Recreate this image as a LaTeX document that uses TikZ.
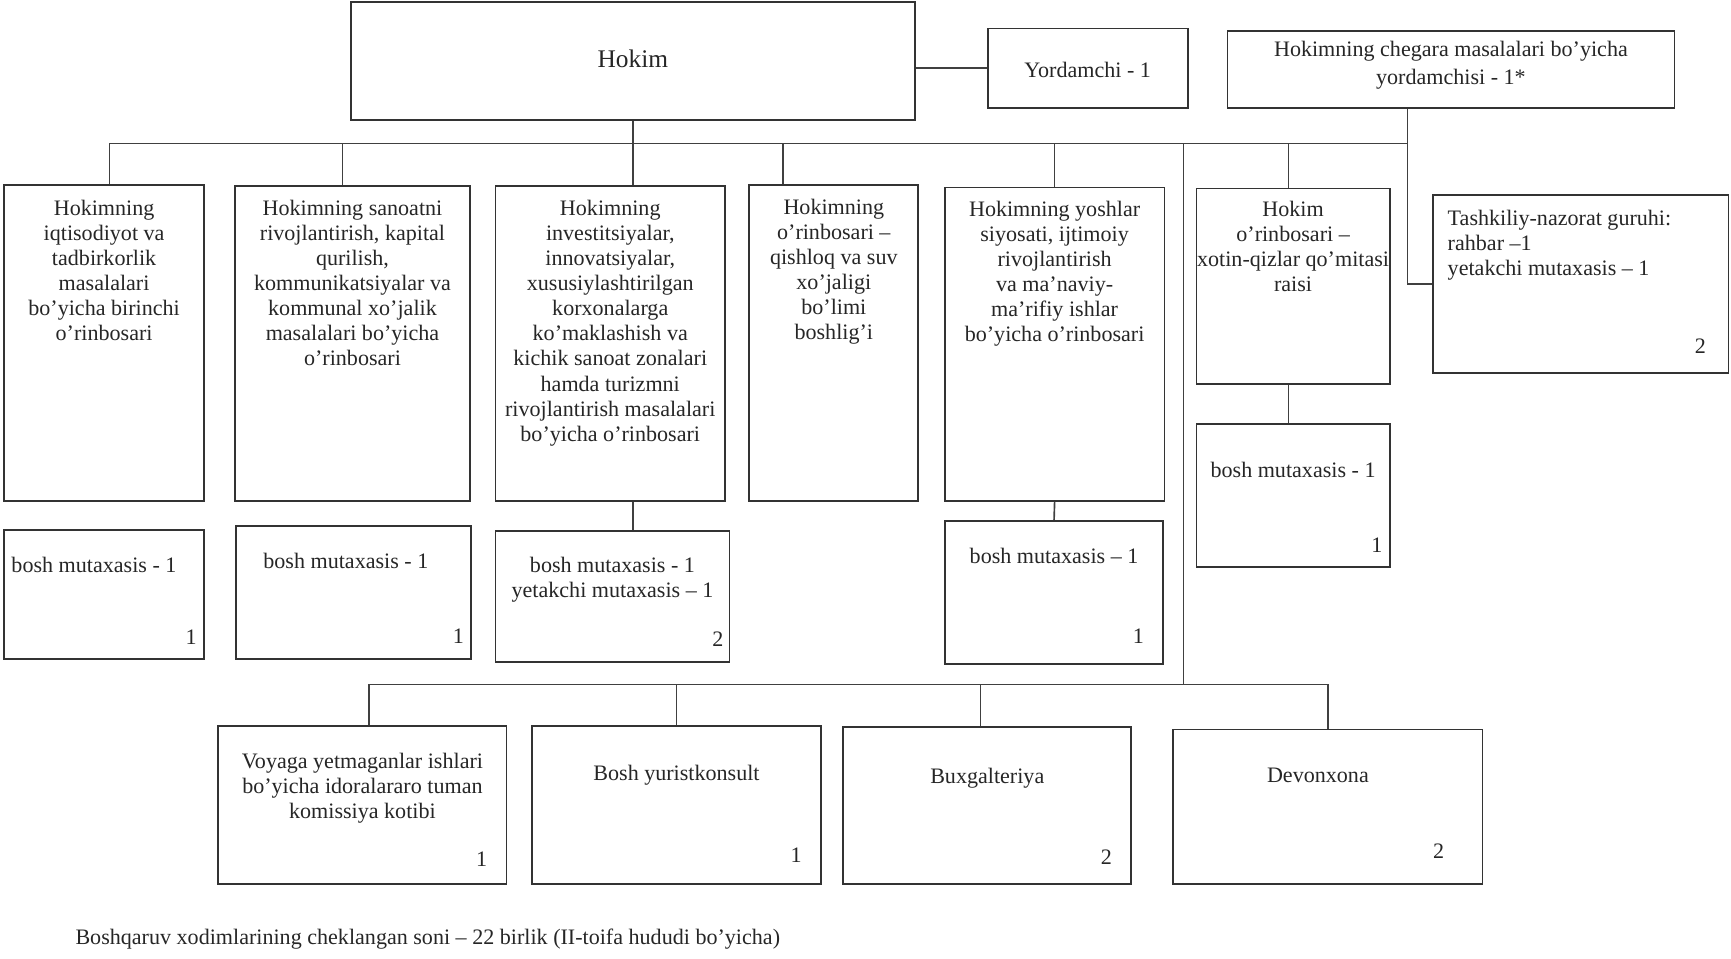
\documentclass[tikz,border=0pt]{standalone}
\usepackage{fontspec}
\setmainfont{Liberation Serif}
\usepackage{tikz}
\usetikzlibrary{positioning}

\begin{document}
\begin{tikzpicture}[x=0.5pt,y=-0.5pt]%
  \tikzstyle{boxn}=[rectangle,draw=black!80,line width=0.8pt,inner sep=0,anchor=north west]
  \tikzstyle{txtn}=[inner sep=0,align=center,text=black!85,font=\fontsize{10}{11.35}\selectfont]
  \tikzstyle{numn}=[inner sep=0,text=black!85,font=\fontsize{10}{12}\selectfont]
  \tikzstyle{conn}=[draw=black!75,line width=0.75pt]
  \useasboundingbox (0,0) rectangle (1568,868);
  % top row
  \node(Hk)[boxn,minimum width=255.5pt,minimum height=53.5pt] at (317,1) {};
  \node(Yo)[boxn,minimum width=90.5pt,minimum height=36pt] at (894,25) {};
  \node(Ch)[boxn,minimum width=202.5pt,minimum height=35pt] at (1111,27) {};
  \node(Hkt)[txtn,font=\fontsize{11.5}{13}\selectfont,yshift=1pt] at (Hk.center) {Hokim};
  \node(Yot)[txtn,yshift=-1pt] at (Yo.center) {Yordamchi - 1};
  \node(Cht)[txtn,font=\fontsize{10}{12.5}\selectfont,below=5pt of Ch.north] {Hokimning chegara masalalari bo'yicha\\yordamchisi - 1*};
  % deputies
  \node(A)[boxn,minimum width=90.5pt,minimum height=143pt] at (3,167) {};
  \node(B)[boxn,minimum width=106.5pt,minimum height=142.5pt] at (212,168) {};
  \node(C)[boxn,minimum width=104pt,minimum height=142.5pt] at (448,168) {};
  \node(D)[boxn,minimum width=76.5pt,minimum height=143pt] at (678,167) {};
  \node(E)[boxn,minimum width=99.5pt,minimum height=142pt] at (855,169) {};
  \node(F)[boxn,minimum width=87.5pt,minimum height=88.5pt] at (1083,170) {};
  \node(Tk)[boxn,minimum width=134pt,minimum height=80.5pt] at (1297,176) {};
  \node(At)[txtn,below=7pt of A.north] {Hokimning\\iqtisodiyot va\\tadbirkorlik\\masalalari\\bo'yicha birinchi\\o'rinbosari};
  \node(Bt)[txtn,below=6.5pt of B.north] {Hokimning sanoatni\\rivojlantirish, kapital\\qurilish,\\kommunikatsiyalar va\\kommunal xo'jalik\\masalalari bo'yicha\\o'rinbosari};
  \node(Ct)[txtn,below=6.5pt of C.north] {Hokimning\\investitsiyalar,\\innovatsiyalar,\\xususiylashtirilgan\\korxonalarga\\ko'maklashish  va\\kichik sanoat zonalari\\hamda turizmni\\rivojlantirish masalalari\\bo'yicha o'rinbosari};
  \node(Dt)[txtn,below=6.5pt of D.north] {Hokimning\\o'rinbosari –\\qishloq va suv\\xo'jaligi\\bo'limi\\boshlig'i};
  \node(Et)[txtn,below=6.5pt of E.north] {Hokimning yoshlar\\siyosati, ijtimoiy\\rivojlantirish\\va ma'naviy-\\ma'rifiy ishlar\\bo'yicha o'rinbosari};
  \node(Ft)[txtn,below=6pt of F.north] {Hokim\\o'rinbosari –\\xotin-qizlar qo'mitasi\\raisi};
  \node(Tkt)[txtn,align=left,anchor=north west] at (1311,190) {Tashkiliy-nazorat guruhi:\\rahbar –1\\yetakchi mutaxasis – 1};
  \node(Tkn)[numn,above left=9pt and 10.5pt of Tk.south east] {2};
  % specialists
  \node(A2)[boxn,minimum width=90.5pt,minimum height=58.5pt] at (3,479) {};
  \node(B2)[boxn,minimum width=106.5pt,minimum height=60pt] at (213,476) {};
  \node(C2)[boxn,minimum width=106pt,minimum height=59.5pt] at (448,480) {};
  \node(E2)[boxn,minimum width=99pt,minimum height=65pt] at (855,471) {};
  \node(F2)[boxn,minimum width=87.5pt,minimum height=65pt] at (1083,383) {};
  \node(A2t)[txtn,anchor=north west] at (10,504) {bosh mutaxasis - 1};
  \node(B2t)[txtn,below=12.5pt of B2.north,xshift=-3.5pt] {bosh mutaxasis - 1};
  \node(C2t)[txtn,below=12pt of C2.north] {bosh mutaxasis - 1\\yetakchi mutaxasis – 1};
  \node(E2t)[txtn,below=12.5pt of E2.north] {bosh mutaxasis – 1};
  \node(F2t)[txtn,below=17.5pt of F2.north] {bosh mutaxasis - 1};
  \node(A2n)[numn,above left=6.5pt and 3.5pt of A2.south east] {1};
  \node(B2n)[numn,above left=7pt and 3.5pt of B2.south east] {1};
  \node(C2n)[numn,above left=7.5pt and 3pt of C2.south east] {2};
  \node(E2n)[numn,above left=9.5pt and 9pt of E2.south east] {1};
  \node(F2n)[numn,above left=7pt and 3.5pt of F2.south east] {1};
  % staff units
  \node(G)[boxn,minimum width=130.5pt,minimum height=71.5pt] at (197,657) {};
  \node(H)[boxn,minimum width=131pt,minimum height=71.5pt] at (481,657) {};
  \node(I)[boxn,minimum width=130.5pt,minimum height=71pt] at (763,658) {};
  \node(J)[boxn,minimum width=140pt,minimum height=70pt] at (1062,660) {};
  \node(Gt)[txtn,below=12.5pt of G.north] {Voyaga yetmaganlar ishlari\\bo'yicha idoralararo tuman\\komissiya kotibi};
  \node(Ht)[txtn,below=18pt of H.north] {Bosh yuristkonsult};
  \node(It)[txtn,below=18.5pt of I.north] {Buxgalteriya};
  \node(Jt)[txtn,below=17.5pt of J.north,xshift=-4.5pt] {Devonxona};
  \node(Gn)[numn,above left=8pt and 9pt of G.south east] {1};
  \node(Hn)[numn,above left=10pt and 9pt of H.south east] {1};
  \node(In)[numn,above left=9pt and 9pt of I.south east] {2};
  \node(Jn)[numn,above left=12pt and 17.5pt of J.south east] {2};
  \node(Ft2)[txtn,anchor=base west] at (68,856) {Boshqaruv xodimlarining cheklangan soni – 22 birlik (II-toifa hududi bo'yicha)};
  % connectors
  \coordinate(tr) at (1275,130);
  \coordinate(vt) at (1072,130);
  \coordinate(lb) at (1072,620);
  \draw[conn] ([xshift=2.5pt]A.north) |- (tr) -- (tr |- Ch.south);
  \draw[conn] (tr) |- (Tk.west);
  \draw[conn] (Hk.south) -- (Hk.south |- C.north);
  \draw[conn] ([xshift=-4.5pt]B.north) -- ([xshift=-4.5pt]B.north |- tr);
  \draw[conn] ([xshift=-23pt]D.north) -- ([xshift=-23pt]D.north |- tr);
  \draw[conn] (E.north) -- (E.north |- tr);
  \draw[conn] ([xshift=-2pt]F.north) -- ([xshift=-2pt]F.north |- tr);
  \draw[conn] (Yo.west -| Hk.east) -- (Yo.west);
  \draw[conn] (Hk.south |- C.south) -- (Hk.south |- C2.north);
  \draw[conn] (E.south) -- (E2.north);
  \draw[conn] ([xshift=-2pt]F.south) -- ([xshift=-2pt]F2.north);
  \draw[conn] (vt) -- (lb);
  \draw[conn] ([xshift=3pt]G.north) |- (J.north |- lb) -- (J.north);
  \draw[conn] (H.north) -- (H.north |- lb);
  \draw[conn] ([xshift=-3pt]I.north) -- ([xshift=-3pt]I.north |- lb);
\end{tikzpicture}
\end{document}
